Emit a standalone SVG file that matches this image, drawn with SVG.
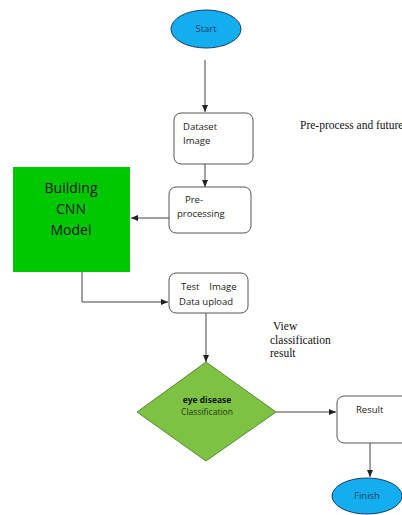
<svg xmlns="http://www.w3.org/2000/svg" width="402" height="515" viewBox="0 0 402 515">
<defs>
<marker id="ah" markerWidth="8" markerHeight="8" refX="7" refY="4" orient="auto" markerUnits="userSpaceOnUse">
<path d="M0,1 L7,4 L0,7 Z" fill="#222"/>
</marker>
<style>
.box{fill:#fff;stroke:#555;stroke-width:1}
.ell{fill:#12aef0;stroke:#1f3b63;stroke-width:1}
.t{font-family:"Open Sans","Liberation Sans",sans-serif;font-size:9.5px;fill:#222}
.tc{font-family:"Open Sans","Liberation Sans",sans-serif;font-size:9.5px;fill:#1f3b63;text-anchor:middle}
.s{font-family:"Liberation Serif",serif;font-size:11.5px;fill:#111}
.ln{fill:none;stroke:#444;stroke-width:1}
</style>
</defs>
<rect width="402" height="515" fill="#fff"/>
<g id="connectors">
<path class="ln" d="M205,60 V112" marker-end="url(#ah)"/>
<path class="ln" d="M205,164 V187" marker-end="url(#ah)"/>
<path class="ln" d="M169,218 H131" marker-end="url(#ah)"/>
<path class="ln" d="M82,272 V302 H168" marker-end="url(#ah)"/>
<path class="ln" d="M206,313 V362" marker-end="url(#ah)"/>
<path class="ln" d="M276,412 H336" marker-end="url(#ah)"/>
<path class="ln" d="M370,434 V477" marker-end="url(#ah)"/>
</g>
<g id="start">
<ellipse class="ell" cx="206" cy="29" rx="35" ry="19"/>
<text class="tc" x="206" y="32">Start</text>
</g>
<g id="dataset">
<rect class="box" x="174" y="113" width="79" height="51" rx="7"/>
<text class="t" x="183" y="130">Dataset</text>
<text class="t" x="183" y="144">Image</text>
</g>
<g id="preprocessing">
<rect class="box" x="169" y="187" width="82" height="46" rx="7"/>
<text class="t" x="185" y="203">Pre-</text>
<text class="t" x="177" y="217">processing</text>
</g>
<g id="cnn">
<rect x="13" y="167" width="117" height="105" fill="#00c800"/>
<text x="71" y="193" font-family="'Open Sans','Liberation Sans',sans-serif" font-size="14" fill="#111" text-anchor="middle">Building</text>
<text x="71" y="214" font-family="'Open Sans','Liberation Sans',sans-serif" font-size="14" fill="#111" text-anchor="middle">CNN</text>
<text x="71" y="235" font-family="'Open Sans','Liberation Sans',sans-serif" font-size="14" fill="#111" text-anchor="middle">Model</text>
</g>
<g id="test">
<rect class="box" x="169" y="273" width="79" height="40" rx="7"/>
<text class="t" x="181" y="290" xml:space="preserve">Test    Image</text>
<text class="t" x="179" y="305">Data upload</text>
</g>
<g id="classification">
<polygon points="206,362 276,412 206,461 137,412" fill="#7dc242" stroke="#5a8a30" stroke-width="1"/>
<text x="207" y="403" font-family="'Open Sans','Liberation Sans',sans-serif" font-size="8.5" font-weight="bold" fill="#111" text-anchor="middle">eye disease</text>
<text x="207" y="415" font-family="'Open Sans','Liberation Sans',sans-serif" font-size="8.5" fill="#1d3d10" text-anchor="middle">Classification</text>
</g>
<g id="result">
<rect class="box" x="337" y="396" width="80" height="47" rx="7"/>
<text class="t" x="356" y="413">Result</text>
</g>
<g id="finish">
<ellipse class="ell" cx="367" cy="496" rx="35" ry="18"/>
<text class="tc" x="367" y="499">Finish</text>
</g>
<g id="labels">
<text class="s" x="300" y="129">Pre-process and future</text>
<text class="s" x="273" y="330">View</text>
<text class="s" x="270" y="344">classification</text>
<text class="s" x="270" y="357">result</text>
</g>
</svg>
